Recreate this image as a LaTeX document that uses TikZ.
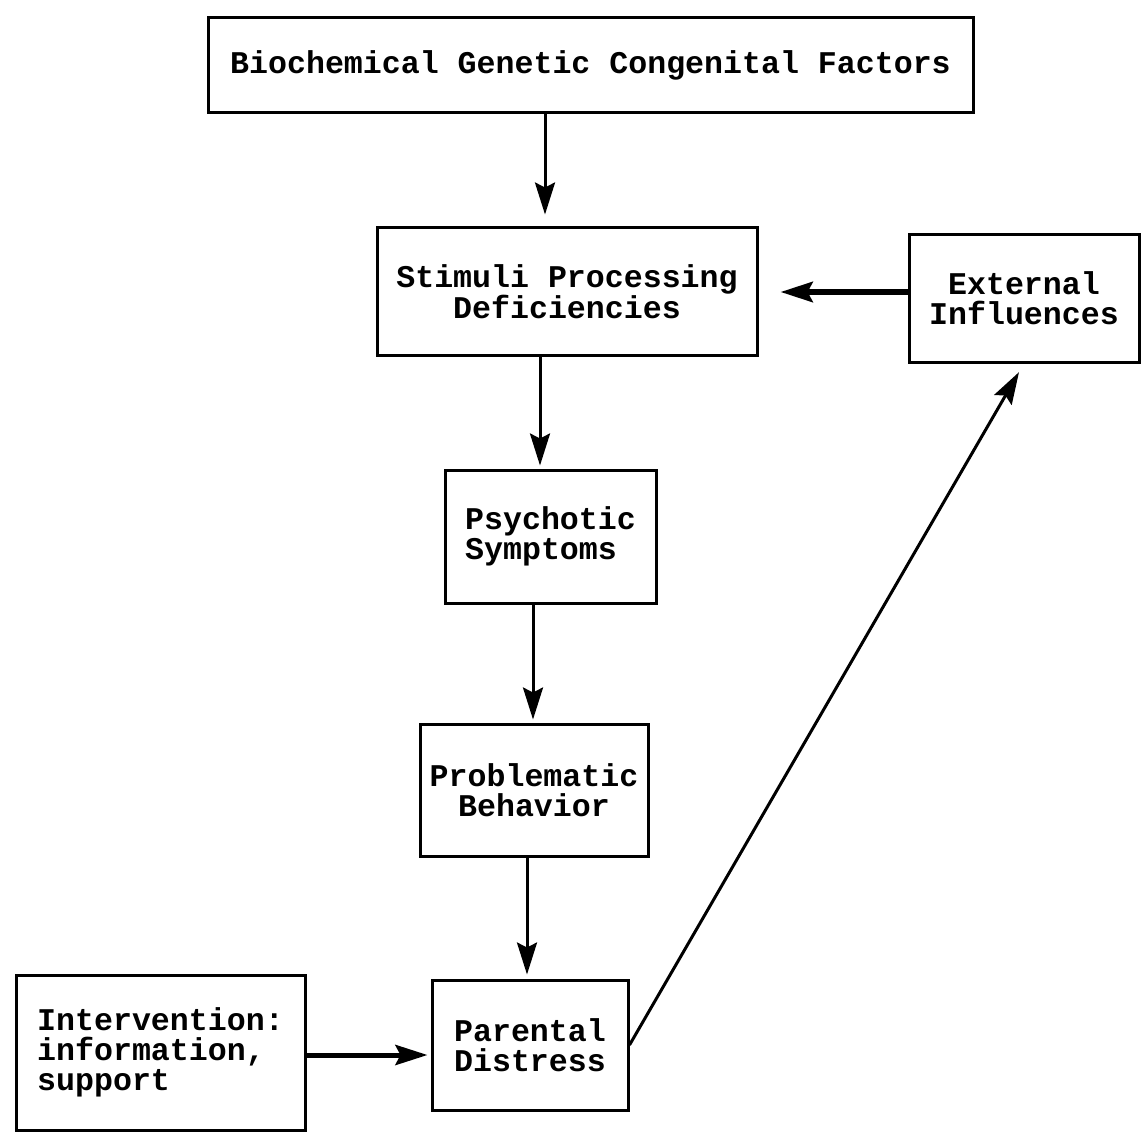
\documentclass[tikz,border=0pt]{standalone}
\usepackage{fontspec}
\setmainfont{Liberation Mono}
\usetikzlibrary{arrows.meta,calc}
\begin{document}
\begin{tikzpicture}[x=1pt,y=-1pt,
  box/.style={draw, line width=3pt, inner sep=0pt, align=center,
    font=\bfseries\fontsize{31.6}{30}\selectfont},
  arr/.style={line width=3pt, -{Stealth[length=32pt,width=20pt,inset=5pt]}},
  thickarr/.style={arr, line width=5pt}]
\useasboundingbox[fill=white] (0,0) rectangle (1143,1142);
\node[box, minimum width=765pt, minimum height=95pt] (top) at (590.5,65.5) {Biochemical Genetic Congenital Factors};
\node[box, minimum width=380pt, minimum height=127pt] (stim) at (567,291.5) {Stimuli Processing\\Deficiencies};
\node[box, minimum width=230pt, minimum height=127pt] (ext) at (1024,298.5) {External\\Influences};
\node[box, align=left, minimum width=211pt, minimum height=133pt] (psy) at (550.5,536.5) {Psychotic\\Symptoms};
\node[box, minimum width=228pt, minimum height=132pt] (prob) at (534,790) {Problematic\\Behavior};
\node[box, minimum width=196pt, minimum height=130pt] (par) at (530,1045) {Parental\\Distress};
\node[box, align=left, minimum width=289pt, minimum height=155pt] (int) at (160.5,1052.5) {Intervention:\\information,\\support};
\coordinate (x1) at (545,0);
\coordinate (x2) at (540,0);
\coordinate (x3) at (533,0);
\coordinate (x4) at (527,0);
\coordinate (y1) at (0,292);
\coordinate (y2) at (0,1055);
\draw[arr, shorten >=12pt] (top.south -| x1) -- (stim.north -| x1);
\draw[arr, shorten >=3pt] (stim.south -| x2) -- (psy.north -| x2);
\draw[arr, shorten >=3pt] (psy.south -| x3) -- (prob.north -| x3);
\draw[arr, shorten >=4pt] (prob.south -| x4) -- (par.north -| x4);
\draw[thickarr, line width=6pt, shorten >=22pt] (ext.west |- y1) -- (stim.east |- y1);
\draw[thickarr, shorten >=3pt] (int.east |- y2) -- (par.west |- y2);
\draw[arr, shorten >=10pt] (par.east) -- (ext.south);
\end{tikzpicture}
\end{document}
